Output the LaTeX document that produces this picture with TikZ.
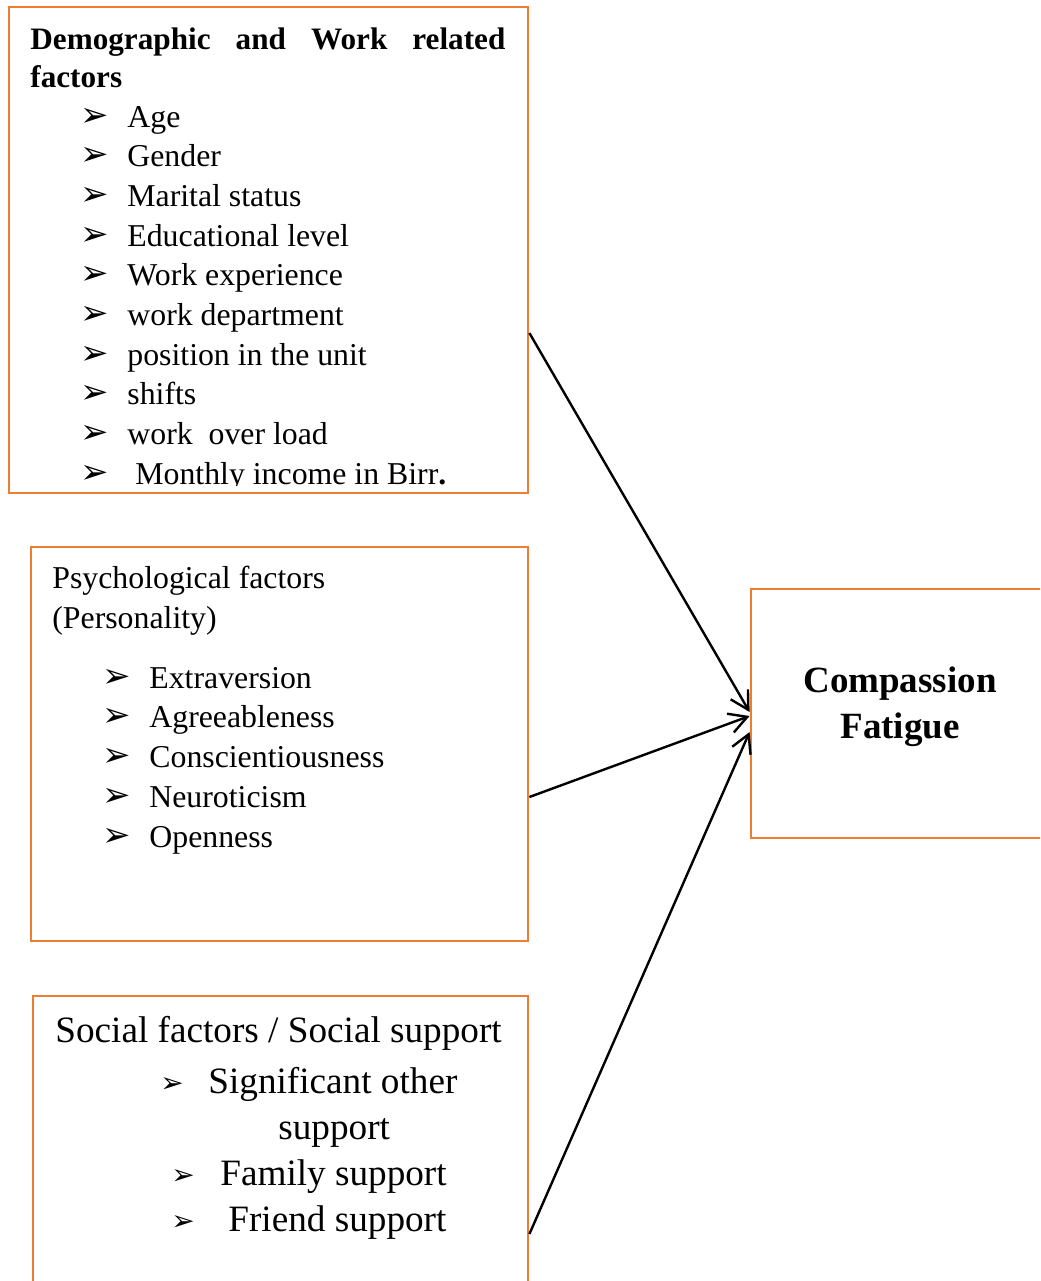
\documentclass[tikz,border=0pt]{standalone}
\usepackage{fontspec}
\setmainfont{Liberation Serif}
\newfontfamily\dingfont{DejaVu Sans}
\usetikzlibrary{arrows.meta,calc,fit}
\definecolor{boxorange}{HTML}{ED7D31}
\begin{document}
\begin{tikzpicture}[x=0.5pt,y=-0.5pt,
  box/.style={draw=boxorange, line width=1.4pt, inner sep=0pt},
  txt/.style={anchor=base west, inner sep=0pt, font=\fontsize{15.9}{18}\selectfont},
  hdr/.style={anchor=base west, inner sep=0pt, font=\bfseries\fontsize{15.6}{18}\selectfont},
  big/.style={anchor=base west, inner sep=0pt, font=\fontsize{18.6}{22}\selectfont},
  bul/.style={anchor=base west, inner sep=0pt, font=\dingfont\fontsize{17}{18}\selectfont},
  sbul/.style={anchor=base west, inner sep=0pt, font=\dingfont\fontsize{14}{15}\selectfont},
  cf/.style={anchor=base, inner sep=0pt, font=\bfseries\fontsize{18.5}{22}\selectfont},
  arr/.style={line width=1.2pt, -{Straight Barb[length=9pt,width=10pt]}}]
\clip (0,0) rectangle (1040,1281);
% boxes
\node[box, fit={(9,7)(528,493)}] (b1) {};
\node[box, fit={(31,547)(528,941)}] (b2) {};
\node[box, fit={(33,996)(528,1300)}] (b3) {};
\node[box, fit={(751,589)(1060,838)}] (b4) {};
% box 1
\node[hdr] (h1) at (30,49) {\makebox[237.5pt][s]{Demographic and Work related}};
\node[hdr] (h2) at (30,87) {factors};
\foreach \t [count=\i from 0] in {Age,Gender,Marital status,Educational level,Work experience,work department,position in the unit,shifts,work\ \ over load}{
  \node[bul] (ba\i) at (80,126+39.7*\i) {➢};
  \node[txt] (ta\i) at (127,127+39.7*\i) {\t};
}
\begin{scope}
\clip (9,7) rectangle (528,485);
\node[bul] (ba9) at (80,483) {➢};
\node[txt] (ta9) at (135,484) {Monthly income in Birr\textbf{.}};
\end{scope}
% box 2
\node[txt] (p1) at (52,588) {Psychological factors};
\node[txt] (p2) at (52,628) {(Personality)};
\foreach \t [count=\i from 0] in {Extraversion,Agreeableness,Conscientiousness,Neuroticism,Openness}{
  \node[bul] (bb\i) at (102,687+39.8*\i) {➢};
  \node[txt] (tb\i) at (149,688+39.8*\i) {\t};
}
% box 3
\node[big] (s0) at (55,1042) {Social factors / Social support};
\node[sbul] (bs1) at (160,1092) {➢};
\node[big] (s1) at (208,1093) {Significant other};
\node[big] (s1b) at (278,1139) {support};
\node[sbul] (bs2) at (171,1184) {➢};
\node[big] (s2) at (220,1185) {Family support};
\node[sbul] (bs3) at (171,1230) {➢};
\node[big] (s3) at (228,1231) {Friend support};
% box 4
\node[cf] (c1) at (900,692) {Compassion};
\node[cf] (c2) at (900,738) {Fatigue};
% arrows
\draw[arr] ($(b1.north east)!(0,333)!(b1.south east)$) -- ($(b4.north west)!(0,712)!(b4.south west)$);
\draw[arr] ($(b2.north east)!(0,797)!(b2.south east)$) -- ($(b4.north west)!(0,716)!(b4.south west)$);
\draw[arr] ($(b3.north east)!(0,1234)!(b3.south east)$) -- ($(b4.north west)!(0,732)!(b4.south west)$);
\end{tikzpicture}
\end{document}
